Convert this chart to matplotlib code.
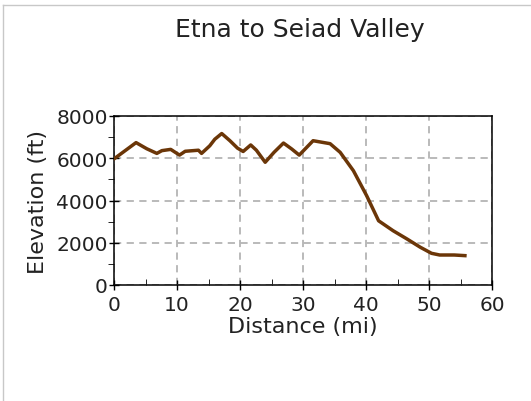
import matplotlib.pyplot as plt
from matplotlib.lines import Line2D
from matplotlib.ticker import MultipleLocator

# elevation profile
distance_mi = [0.0, 1.5, 3.5, 5.2, 6.8, 7.6, 9.0, 10.4, 11.3, 13.4, 13.9,
               15.2, 16.0, 17.1, 18.4, 19.6, 20.5, 21.7, 22.6, 24.0, 25.4,
               26.9, 28.2, 29.4, 30.6, 31.6, 34.3, 35.9, 38.0, 40.1, 42.0,
               44.3, 46.5, 48.6, 50.4, 51.7, 54.0, 55.7]
elevation_ft = [5970, 6300, 6740, 6450, 6230, 6360, 6420, 6150, 6330, 6380,
                6230, 6590, 6900, 7170, 6830, 6480, 6320, 6630, 6380, 5810,
                6280, 6720, 6440, 6150, 6520, 6830, 6690, 6280, 5410, 4230,
                3040, 2570, 2180, 1790, 1500, 1420, 1420, 1390]

x_ticks = [0, 10, 20, 30, 40, 50, 60]
y_ticks = [0, 2000, 4000, 6000, 8000]

fig = plt.figure(figsize=(5.31, 4.02), dpi=100)
ax = fig.add_axes([114 / 531, 1 - 286 / 402, 378 / 531, 169 / 402])

ax.plot(distance_mi, elevation_ft, color='#6b3608', linewidth=2.5,
        solid_joinstyle='round', zorder=3)

ax.set_xlim(0, 60)
ax.set_ylim(0, 8000)
ax.set_xticks(x_ticks)
ax.set_yticks(y_ticks)
ax.xaxis.set_minor_locator(MultipleLocator(5))
ax.yaxis.set_minor_locator(MultipleLocator(1000))
ax.tick_params(which='major', direction='inout', length=7, width=1,
               labelsize=14.5, colors='black', pad=1)
ax.tick_params(axis='x', which='major', pad=4)
ax.tick_params(axis='x', which='minor', direction='in', length=4)
ax.tick_params(axis='y', which='minor', direction='out', length=4)
for lbl in ax.get_xticklabels() + ax.get_yticklabels():
    lbl.set_color('#222222')

ax.grid(True, which='major', color='#b4b4b4', linestyle=(0, (4, 3)),
        linewidth=1.3)
for s in ax.spines.values():
    s.set_linewidth(1.1)

ax.set_xlabel('Distance (mi)', fontsize=16, labelpad=1, color='#222222')
ax.set_ylabel('Elevation (ft)', fontsize=16, labelpad=6, color='#222222')
fig.text(300 / 531, 1 - 30 / 402, 'Etna to Seiad Valley', fontsize=18,
         ha='center', va='center', color='#222222')

# light frame lines on the top and left edges
fig.add_artist(Line2D([3 / 531, 3 / 531], [0, 1 - 6 / 402],
                      transform=fig.transFigure, color='#c8c8c8', lw=1))
fig.add_artist(Line2D([3 / 531, 1], [1 - 6 / 402, 1 - 6 / 402],
                      transform=fig.transFigure, color='#c8c8c8', lw=1))

fig.savefig('out.png', dpi=100)
